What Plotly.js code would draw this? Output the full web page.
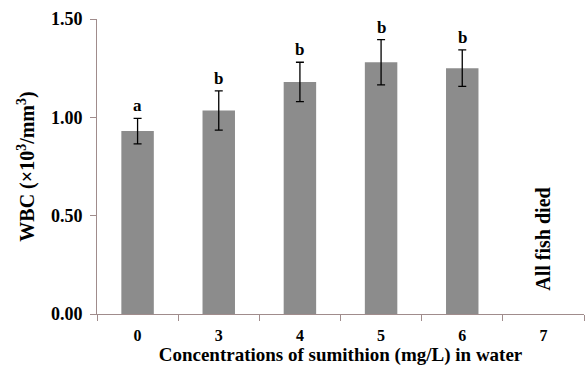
<!DOCTYPE html>
<html>
<head>
<meta charset="utf-8">
<script src="https://cdn.plot.ly/plotly-3.0.1.min.js"></script>
<style>html,body{margin:0;padding:0;background:#fff;}#chart{width:587px;height:369px;}</style>
</head>
<body>
<div id="chart"></div>
<script>
const categories = ['0', '3', '4', '5', '6', '7'];
const wbc = [0.93, 1.035, 1.18, 1.28, 1.25, null];
const errors = [0.065, 0.10, 0.10, 0.115, 0.093, null];
const letters = ['a', 'b', 'b', 'b', 'b', ''];
const noteText = 'All fish died';
const noteCategoryIndex = 5;
const noteValue = 0.38;

const font = 'Liberation Serif';
const axisColor = '#a08c8c';

const annotations = [];
categories.forEach((c, i) => {
  if (letters[i] && wbc[i] != null) {
    annotations.push({
      x: i, y: wbc[i] + errors[i], xref: 'x', yref: 'y',
      text: letters[i], showarrow: false,
      yanchor: 'bottom', yshift: 1,
      font: {family: font, size: 17, color: '#000', weight: 'bold'}
    });
  }
});
annotations.push({
  x: noteCategoryIndex, y: noteValue, xref: 'x', yref: 'y',
  text: noteText, showarrow: false, textangle: -90,
  font: {family: font, size: 20, color: '#000', weight: 'bold'}
});

const trace = {
  type: 'bar', x: categories, y: wbc,
  marker: {color: '#8c8c8c'},
  error_y: {type: 'data', array: errors, visible: true, color: '#000', thickness: 1.3, width: 4}
};

const layout = {
  width: 587, height: 369,
  margin: {l: 97, r: 3, t: 19, b: 55},
  paper_bgcolor: '#fff', plot_bgcolor: '#fff',
  showlegend: false, bargap: 0.6,
  font: {family: font, color: '#000'},
  xaxis: {
    type: 'category', range: [-0.5, 5.5],
    showline: true, linecolor: axisColor, linewidth: 1,
    ticks: 'outside', tickson: 'boundaries', ticklen: 6, tickcolor: axisColor,
    ticklabelstandoff: 7,
    tickfont: {family: font, size: 16, color: '#000', weight: 'bold'},
    showgrid: false, zeroline: false,
    title: {text: 'Concentrations of sumithion (mg/L) in water', font: {family: font, size: 19, color: '#000', weight: 'bold'}, standoff: 4}
  },
  yaxis: {
    range: [0, 1.5], dtick: 0.5, tickformat: '.2f',
    showline: true, linecolor: axisColor, linewidth: 1,
    ticks: 'outside', ticklen: 6, tickcolor: axisColor,
    ticklabelstandoff: 4,
    tickfont: {family: font, size: 18, color: '#000', weight: 'bold'},
    showgrid: false, zeroline: false,
    title: {text: 'WBC (×10<sup>3</sup>/mm<sup>3</sup>)', font: {family: font, size: 20, color: '#000', weight: 'bold'}, standoff: 10}
  },
  annotations: annotations
};

Plotly.newPlot('chart', [trace], layout, {displayModeBar: false, staticPlot: true});
</script>
</body>
</html>
